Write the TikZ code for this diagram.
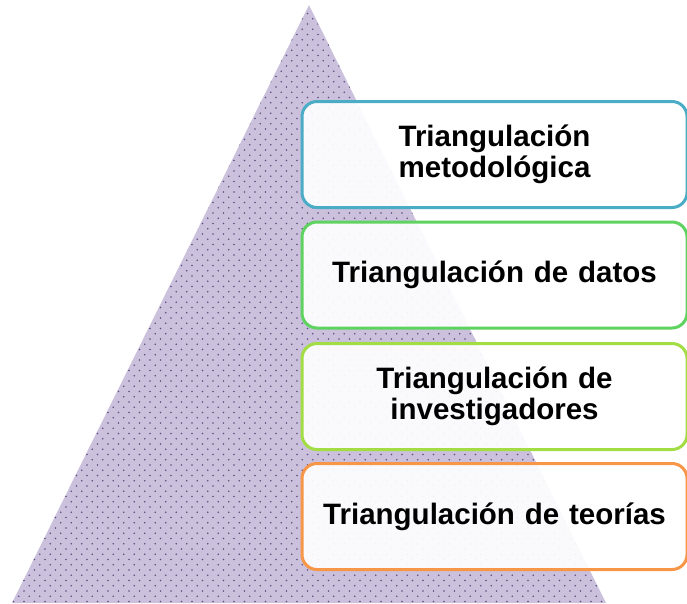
\documentclass[tikz,border=0pt]{standalone}
\usepackage{fontspec}
\setmainfont{Liberation Sans}
\begin{document}
\begin{tikzpicture}[x=1pt,y=-1pt,
  stepbox/.style={draw, line width=3pt, rounded corners=15pt, fill=white, fill opacity=0.92, text opacity=1,
    minimum width=385pt, minimum height=106pt, text width=370pt, align=center,
    font=\bfseries\fontsize{29.5}{31}\selectfont, inner sep=0pt},
]
\definecolor{lav}{HTML}{CBC1DD}
\definecolor{dotc}{HTML}{5E4E80}
\definecolor{cteal}{HTML}{4BACC6}
\definecolor{cgreen}{HTML}{5FD35F}
\definecolor{clime}{HTML}{A2DD44}
\definecolor{corange}{HTML}{F79646}
\useasboundingbox (0,0) rectangle (687,603);
\coordinate (apex) at (309,5);
\coordinate (bl) at (12,603);
\coordinate (br) at (606,603);
\fill[lav] (apex) -- (br) -- (bl) -- cycle;
\begin{scope}
\clip (apex) -- (br) -- (bl) -- cycle;
\foreach \j in {0,...,115} {
  \pgfmathsetmacro{\yy}{3+5.25*\j}
  \pgfmathsetmacro{\off}{mod(\j,2)*5.25}
  \foreach \i in {0,...,59} {
    \fill[dotc] (\i*10.5+\off+3,\yy) circle (0.85pt);
  }
}
\end{scope}
\node[stepbox, draw=cteal] (m) at (494.5,154.5) {Triangulación\\metodológica};
\node[stepbox, draw=cgreen] (d) at (494.5,275) {Triangulación de datos};
\node[stepbox, draw=clime] (i) at (494.5,396.5) {Triangulación de\\investigadores};
\node[stepbox, draw=corange] (t) at (494.5,516.5) {Triangulación de teorías};
\end{tikzpicture}
\end{document}
